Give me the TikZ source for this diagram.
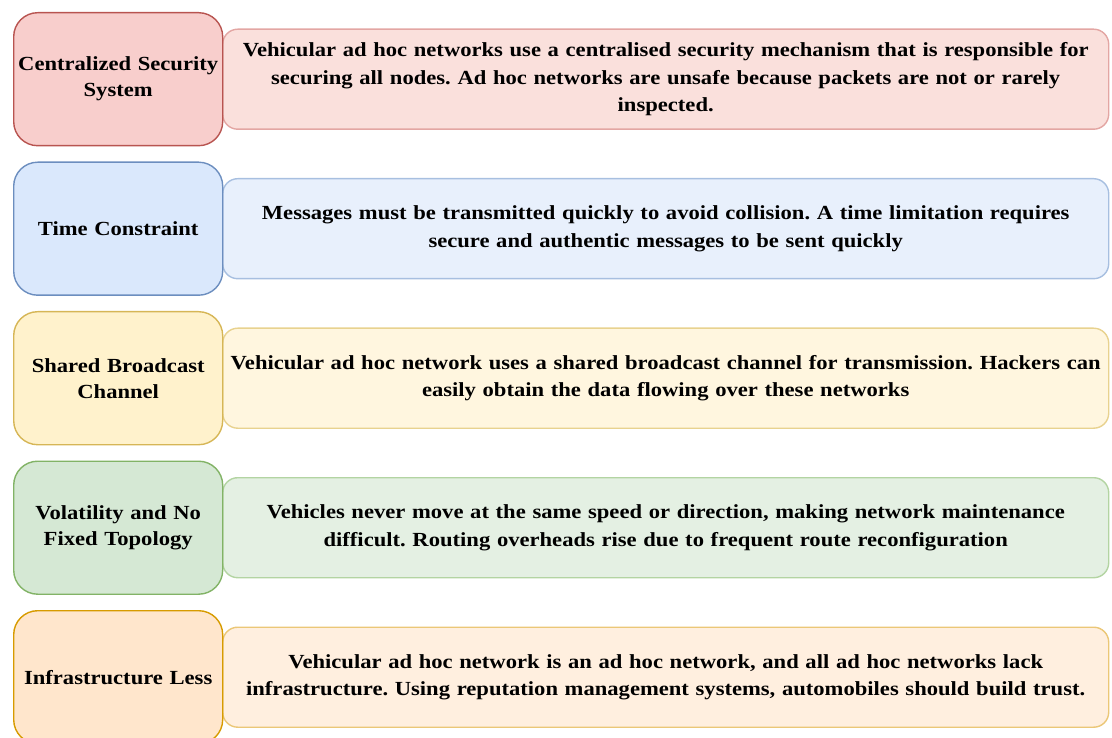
\documentclass[tikz,border=0pt]{standalone}
\usepackage{fontspec}
\setmainfont{Liberation Serif}[FakeStretch=1.13]
\frenchspacing
\definecolor{lf1}{HTML}{F8CECC}\definecolor{ld1}{HTML}{B85450}
\definecolor{rf1}{HTML}{FAE0DC}\definecolor{rd1}{HTML}{E3A6A3}
\definecolor{lf2}{HTML}{DAE8FC}\definecolor{ld2}{HTML}{6C8EBF}
\definecolor{rf2}{HTML}{E8F0FC}\definecolor{rd2}{HTML}{A7BFE0}
\definecolor{lf3}{HTML}{FFF2CC}\definecolor{ld3}{HTML}{D6B656}
\definecolor{rf3}{HTML}{FFF6DF}\definecolor{rd3}{HTML}{E8D28F}
\definecolor{lf4}{HTML}{D5E8D4}\definecolor{ld4}{HTML}{82B366}
\definecolor{rf4}{HTML}{E4F0E3}\definecolor{rd4}{HTML}{B3D4A2}
\definecolor{lf5}{HTML}{FFE6CC}\definecolor{ld5}{HTML}{D79B00}
\definecolor{rf5}{HTML}{FFEFDF}\definecolor{rd5}{HTML}{EBC777}
\tikzset{
  labelbox/.style={draw, line width=1.4pt, rounded corners=24pt, anchor=north west,
    minimum width=209pt, minimum height=133pt, inner sep=0pt, align=center,
    font=\fontsize{20}{26}\selectfont\bfseries\frenchspacing, text width=207pt},
  descbox/.style={draw, line width=1.4pt, rounded corners=15pt, anchor=north west,
    minimum width=886pt, minimum height=100pt, inner sep=0pt, align=center,
    font=\fontsize{20}{27.5}\selectfont\bfseries\frenchspacing, text width=884pt},
}
\begin{document}
\begin{tikzpicture}[x=1pt,y=1pt]
\useasboundingbox (0,0) rectangle (1112,-738);
\begin{scope}
\clip (0,0) rectangle (1112,-738);
% row 1
\node[descbox, fill=rf1, draw=rd1] (d1) at (222,-28.5) {Vehicular ad hoc networks use a centralised security mechanism that is responsible for\\securing all nodes. Ad hoc networks are unsafe because packets are not or rarely\\inspected.};
\node[labelbox, fill=lf1, draw=ld1] (l1) at (13,-12) {Centralized Security\\System};
% row 2
\node[descbox, fill=rf2, draw=rd2] (d2) at (222,-178) {Messages must be transmitted quickly to avoid collision. A time limitation requires\\secure and authentic messages to be sent quickly};
\node[labelbox, fill=lf2, draw=ld2] (l2) at (13,-161.5) {Time Constraint};
% row 3
\node[descbox, fill=rf3, draw=rd3] (d3) at (222,-327.5) {Vehicular ad hoc network uses a shared broadcast channel for transmission. Hackers can\\easily obtain the data flowing over these networks};
\node[labelbox, fill=lf3, draw=ld3] (l3) at (13,-311) {Shared Broadcast\\Channel};
% row 4
\node[descbox, fill=rf4, draw=rd4] (d4) at (222,-477) {Vehicles never move at the same speed or direction, making network maintenance\\difficult. Routing overheads rise due to frequent route reconfiguration};
\node[labelbox, fill=lf4, draw=ld4] (l4) at (13,-460.5) {Volatility and No\\Fixed Topology};
% row 5
\node[descbox, fill=rf5, draw=rd5] (d5) at (222,-626.5) {Vehicular ad hoc network is an ad hoc network, and all ad hoc networks lack\\infrastructure. Using reputation management systems, automobiles should build trust.};
\node[labelbox, fill=lf5, draw=ld5] (l5) at (13,-610) {Infrastructure Less};
\end{scope}
\end{tikzpicture}
\end{document}
